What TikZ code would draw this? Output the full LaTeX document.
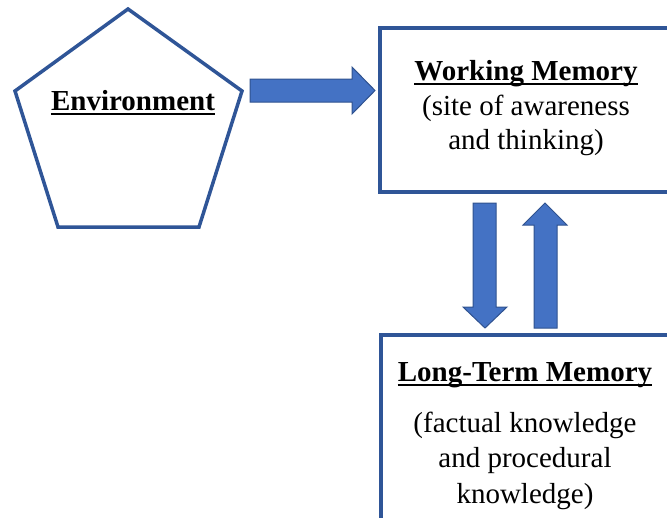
\documentclass[tikz,border=0pt]{standalone}
\usepackage{fontspec}
\setmainfont{Liberation Serif}
\definecolor{outl}{HTML}{2F5597}
\definecolor{afill}{HTML}{4472C4}
\definecolor{aline}{HTML}{2F528F}
\tikzset{
  shapeline/.style={draw=outl, line width=3.5pt, line join=miter},
  blockarrow/.style={fill=afill, draw=aline, line width=1pt},
  txt/.style={inner sep=0pt, anchor=base, font=\fontsize{29}{35}\selectfont},
  ttl/.style={txt, font=\fontsize{29}{35}\selectfont\bfseries},
  uline/.style={line width=2pt}
}
\begin{document}
\begin{tikzpicture}[x=1pt,y=-1pt]
\useasboundingbox (0,0) rectangle (667,517);
\clip (0,0) rectangle (667,517);
% shapes
\draw[shapeline] (128,9) -- (242,91) -- (199,227) -- (58,227) -- (15,91) -- cycle;
\draw[shapeline] (380,28) rectangle (690,192);
\draw[shapeline] (381,335) rectangle (690,540);
% block arrows
\draw[blockarrow] (250,79) -- (352,79) -- (352,67) -- (375,90.5) -- (352,114) -- (352,102) -- (250,102) -- cycle;
\draw[blockarrow] (473,203) -- (496,203) -- (496,307) -- (507,307) -- (485,328) -- (463,307) -- (473,307) -- cycle;
\draw[blockarrow] (534,328) -- (557,328) -- (557,225) -- (567,225) -- (545,203) -- (523,225) -- (534,225) -- cycle;
% texts
\node[ttl] (env) at (133,110) {Environment};
\draw[uline] ([yshift=-4pt]env.base west) -- ([yshift=-4pt]env.base east);
\node[ttl] (wm) at (526,80) {Working Memory};
\draw[uline] ([yshift=-4pt]wm.base west) -- ([yshift=-4pt]wm.base east);
\node[txt] (wm1) at (526,115) {(site of awareness};
\node[txt] (wm2) at (526,149) {and thinking)};
\node[ttl] (ltm) at (525,381) {Long-Term Memory};
\draw[uline] ([yshift=-4pt]ltm.base west) -- ([yshift=-4pt]ltm.base east);
\node[txt] (lt1) at (525,432) {(factual knowledge};
\node[txt] (lt2) at (525,467) {and procedural};
\node[txt] (lt3) at (525,503) {knowledge)};
\end{tikzpicture}
\end{document}
